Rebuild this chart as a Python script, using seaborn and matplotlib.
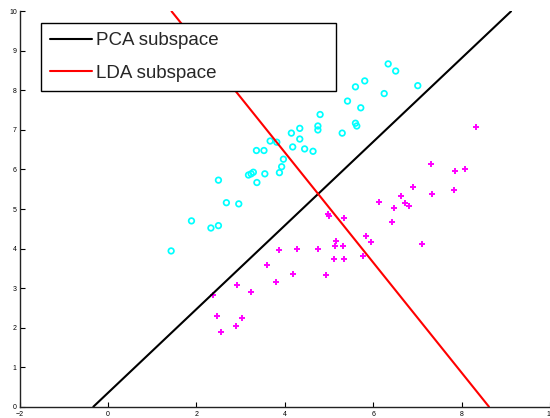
import matplotlib
matplotlib.use("Agg")
import matplotlib.pyplot as plt
import seaborn as sns

# class 1 samples (cyan circles)
class1_x = [6.34, 6.51, 5.81, 5.60, 7.01, 6.25, 5.42, 5.72, 4.80, 4.75,
            4.75, 5.60, 5.63, 4.34, 4.15, 5.30, 4.34, 3.67, 3.82, 4.18,
            4.45, 4.64, 3.36, 3.53, 3.97, 3.93, 3.88, 3.55, 3.29, 3.24,
            3.18, 3.37, 2.50, 2.68, 2.96, 1.89, 2.50, 2.33, 1.43]
class1_y = [8.67, 8.49, 8.24, 8.09, 8.12, 7.92, 7.73, 7.56, 7.39, 7.10,
            7.00, 7.17, 7.10, 7.04, 6.92, 6.92, 6.77, 6.72, 6.69, 6.57,
            6.52, 6.46, 6.48, 6.48, 6.26, 6.07, 5.92, 5.89, 5.93, 5.89,
            5.86, 5.67, 5.73, 5.16, 5.13, 4.70, 4.58, 4.52, 3.94]

# class 2 samples (magenta pluses)
class2_x = [8.32, 7.31, 7.86, 8.07, 6.90, 6.62, 7.33, 7.84, 6.13, 6.48,
            6.73, 6.81, 6.43, 4.98, 5.01, 5.33, 5.84, 5.95, 7.10, 5.16,
            5.14, 5.31, 5.12, 5.33, 5.76, 3.86, 4.27, 4.76, 3.60, 4.18,
            4.94, 2.91, 3.24, 3.81, 2.38, 2.47, 3.03, 2.89, 2.55]
class2_y = [7.07, 6.13, 5.95, 6.01, 5.55, 5.34, 5.37, 5.49, 5.19, 5.02,
            5.14, 5.08, 4.66, 4.87, 4.83, 4.78, 4.32, 4.17, 4.11, 4.20,
            4.07, 4.07, 3.74, 3.74, 3.82, 3.96, 4.00, 4.00, 3.58, 3.36,
            3.32, 3.09, 2.91, 3.15, 2.83, 2.30, 2.24, 2.03, 1.89]

# subspace directions, drawn as segments across the plot
pca_x = [-0.33, 9.12]
pca_y = [0, 10]
lda_x = [1.44, 8.62]
lda_y = [10, 0]

x_ticks = [-2, 0, 2, 4, 6, 8, 10]
y_ticks = [0, 1, 2, 3, 4, 5, 6, 7, 8, 9, 10]

sns.set_style("white")
plt.rcParams['font.family'] = ['Liberation Sans', 'DejaVu Sans']

fig = plt.figure(figsize=(5.5, 4.18), dpi=100)
ax = fig.add_axes([0.0355, 0.027, 0.9644, 0.9459])

sns.lineplot(x=pca_x, y=pca_y, color='black', linewidth=1.5,
             label='PCA subspace', sort=False, ax=ax)
sns.lineplot(x=lda_x, y=lda_y, color='red', linewidth=1.5,
             label='LDA subspace', sort=False, ax=ax)

sns.scatterplot(x=class1_x, y=class1_y, marker='o', s=16, color='cyan',
                facecolor='none', edgecolor='cyan', linewidth=1.25, ax=ax)
sns.scatterplot(x=class2_x, y=class2_y, marker='+', s=23, color='magenta',
                linewidth=1.4, ax=ax)

ax.set_xlim(-2, 10)
ax.set_ylim(0, 10)
ax.set_xticks(x_ticks)
ax.set_yticks(y_ticks)
ax.tick_params(direction='in', length=3.5, width=0.8, labelsize=5,
               colors='black', bottom=True, left=True)
ax.tick_params(axis='x', pad=3)
ax.tick_params(axis='y', pad=2)
sns.despine(ax=ax)
for side in ['left', 'bottom']:
    ax.spines[side].set_color('#222222')
    ax.spines[side].set_linewidth(1.0)

leg = ax.legend(loc='upper left', mode='expand',
                bbox_to_anchor=(0.0745, 0.7888, 0.5358, 0.1562),
                bbox_transform=fig.transFigure, borderaxespad=0,
                fontsize=13.5, handlelength=2.2, handletextpad=0.25,
                labelspacing=0.8, borderpad=0.5, fancybox=False,
                framealpha=1, edgecolor='black')
leg.get_frame().set_linewidth(1.0)
leg.set_zorder(10)

fig.savefig('out.png', dpi=100)
